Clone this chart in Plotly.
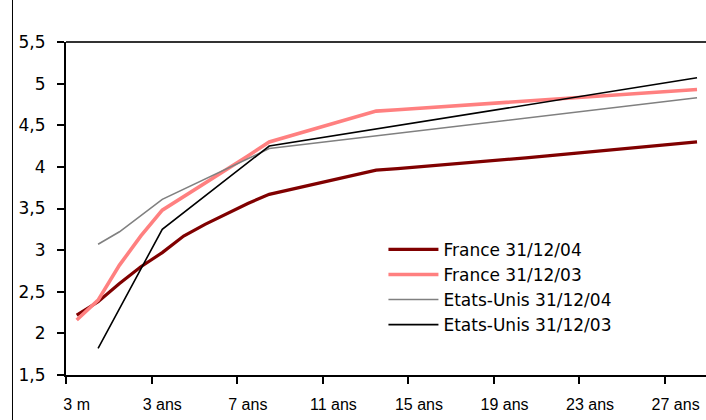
import plotly.graph_objects as go

# Category slots along the maturity axis (index 0 .. 29)
n_cat = 30
cat_idx = list(range(n_cat))

# Labelled categories and their text
tick_pos = [0, 4, 8, 12, 16, 20, 24, 28]
tick_labels = ["3 m", "3 ans", "7 ans", "11 ans", "15 ans", "19 ans", "23 ans", "27 ans"]

# France yield curves (%), one value per category slot
france_04 = [2.22, 2.38, 2.60, 2.80, 2.97, 3.17, 3.31, 3.44, 3.56, 3.67,
             3.728, 3.786, 3.844, 3.902, 3.96, 3.98, 4.00, 4.02, 4.04, 4.06,
             4.084, 4.108, 4.132, 4.156, 4.18, 4.204, 4.228, 4.252, 4.276, 4.30]
france_03 = [2.16, 2.40, 2.82, 3.17, 3.48, 3.64, 3.80, 3.97, 4.13, 4.30,
             4.374, 4.448, 4.522, 4.596, 4.67, 4.687, 4.705, 4.722, 4.739, 4.757,
             4.774, 4.791, 4.809, 4.826, 4.843, 4.861, 4.878, 4.895, 4.913, 4.93]

# US yield curves (%), only at the quoted maturities
us_04_pos = [1, 2, 4, 9, 29]
us_04 = [3.07, 3.22, 3.61, 4.22, 4.83]
us_03_pos = [1, 4, 9, 29]
us_03 = [1.82, 3.25, 4.25, 5.07]

series = [
    ("France 31/12/04", cat_idx, france_04, "#800000", 3.2),
    ("France 31/12/03", cat_idx, france_03, "#FF8080", 3.6),
    ("Etats-Unis 31/12/04", us_04_pos, us_04, "#808080", 1.6),
    ("Etats-Unis 31/12/03", us_03_pos, us_03, "#000000", 1.6),
]

fig = go.Figure()
for name, xs, ys, color, width in series:
    fig.add_trace(go.Scatter(
        x=xs, y=ys, name=name, mode="lines",
        line=dict(color=color, width=width),
    ))

x_range = [-0.5, 29.42]
boundaries = [p - 0.5 for p in tick_pos]

fig.update_layout(
    width=706, height=420,
    margin=dict(l=66, r=0, t=42, b=45, pad=0),
    paper_bgcolor="white", plot_bgcolor="white",
    separators=", ",
    showlegend=True,
    legend=dict(
        x=0.496, y=0.43, xanchor="left", yanchor="top",
        bgcolor="rgba(0,0,0,0)", borderwidth=0,
        font=dict(family="DejaVu Sans", size=17, color="black"),
        itemwidth=50, tracegroupgap=0,
    ),
    xaxis=dict(
        range=x_range, tickmode="array", tickvals=boundaries,
        showticklabels=False, ticks="outside", ticklen=7, tickwidth=1.5,
        tickcolor="black", showline=True, linecolor="black", linewidth=2,
        showgrid=False, zeroline=False,
    ),
    xaxis2=dict(
        range=x_range, overlaying="x", anchor="y", side="bottom",
        tickmode="array", tickvals=tick_pos, ticktext=tick_labels,
        ticks="", showline=False, showgrid=False, zeroline=False,
        tickfont=dict(family="Liberation Sans", size=16, color="black"),
        ticklabelstandoff=18,
    ),
    yaxis=dict(
        range=[1.5, 5.5], tickmode="linear", tick0=1.5, dtick=0.5,
        ticks="outside", ticklen=7, tickwidth=1.5, tickcolor="black",
        showline=True, linecolor="black", linewidth=2,
        showgrid=False, zeroline=False,
        tickfont=dict(family="DejaVu Sans", size=17, color="black"),
        ticklabelstandoff=8,
    ),
    shapes=[
        # top edge of the plot frame
        dict(type="line", xref="paper", yref="paper", x0=0, x1=1, y0=1, y1=1,
             line=dict(color="#333333", width=2)),
        # left border of the chart area
        dict(type="line", xref="paper", yref="paper", x0=-0.0836, x1=-0.0836,
             y0=-0.14, y1=1.13, line=dict(color="black", width=1)),
    ],
)

# empty trace so the label axis is drawn
fig.add_trace(go.Scatter(x=[None], y=[None], xaxis="x2", showlegend=False,
                         hoverinfo="skip"))

fig.write_html("out.html")
